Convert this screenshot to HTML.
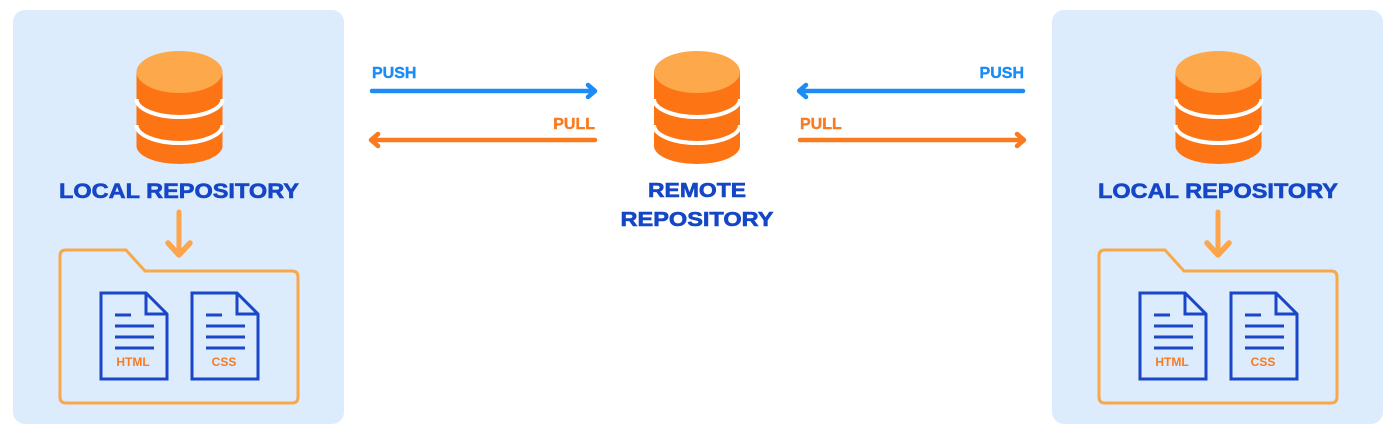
<!DOCTYPE html>
<html><head><meta charset="utf-8"><style>
html,body{margin:0;padding:0;background:#fff;}
svg{display:block}
text{font-family:"Liberation Sans",sans-serif;font-weight:bold;}
</style></head><body>
<svg width="1400" height="442" viewBox="0 0 1400 442" xmlns="http://www.w3.org/2000/svg">
<defs>
<g id="db">
  <path d="M-43,21 L-43,95 A43,18 0 0 0 43,95 L43,21 Z" fill="#fc7413"/>
  <ellipse cx="0" cy="21" rx="43" ry="21" fill="#fda84a"/>
  <path d="M-43,48 A43,18 0 0 0 43,48" fill="none" stroke="#fff" stroke-width="4"/>
  <path d="M-43,74 A43,18 0 0 0 43,74" fill="none" stroke="#fff" stroke-width="4"/>
</g>
<g id="doc">
  <path d="M0,0 L45,0 L66,21 L66,86 L0,86 Z" fill="none" stroke="#1a46c8" stroke-width="3"/>
  <path d="M45,0 L45,21 L66,21" fill="none" stroke="#1a46c8" stroke-width="3"/>
  <path d="M14,22 H30 M14,33 H53 M14,44 H53 M14,55 H53" stroke="#1a46c8" stroke-width="3"/>
</g>
<g id="local">
  <rect x="13" y="10" width="331" height="414" rx="12" fill="#dcecfc"/>
  <use href="#db" x="179.5" y="51"/>
  <text x="179" y="198" font-size="21" fill="#1446c6" text-anchor="middle" textLength="240" lengthAdjust="spacingAndGlyphs" stroke="#1446c6" stroke-width="0.6">LOCAL REPOSITORY</text>
  <path d="M179,212 V250" stroke="#fca54a" stroke-width="5" stroke-linecap="round"/>
  <path d="M168,243 L179,255 L190,243" fill="none" stroke="#fca54a" stroke-width="5.5" stroke-linecap="round" stroke-linejoin="round"/>
  <path d="M66,250 L126,250 L145,271 L292,271 Q298,271 298,277 L298,397 Q298,403 292,403 L66,403 Q60,403 60,397 L60,256 Q60,250 66,250 Z" fill="none" stroke="#f9a849" stroke-width="3"/>
  <use href="#doc" x="101" y="293"/>
  <use href="#doc" x="192" y="293"/>
  <text x="133" y="366" font-size="12" fill="#f97a20" text-anchor="middle">HTML</text>
  <text x="224" y="366" font-size="12" fill="#f97a20" text-anchor="middle">CSS</text>
</g>
</defs>
<use href="#local"/>
<g transform="translate(1039,0)"><use href="#local"/></g>

<use href="#db" x="697" y="51"/>
<text x="697" y="197" font-size="20" fill="#1446c6" text-anchor="middle" textLength="98" lengthAdjust="spacingAndGlyphs" stroke="#1446c6" stroke-width="0.6">REMOTE</text>
<text x="697" y="226" font-size="20" fill="#1446c6" text-anchor="middle" textLength="153" lengthAdjust="spacingAndGlyphs" stroke="#1446c6" stroke-width="0.6">REPOSITORY</text>

<g stroke-width="4.5" stroke-linecap="round" stroke-linejoin="round" fill="none">
  <path d="M372,91 H594 M588,85 L595,91 L588,97" stroke="#1b8cf5"/>
  <path d="M372,140 H595 M378,134 L371,140 L378,146" stroke="#fa7a1f"/>
  <path d="M800,91 H1023 M806,85 L799,91 L806,97" stroke="#1b8cf5"/>
  <path d="M800,140 H1023 M1017,134 L1024,140 L1017,146" stroke="#fa7a1f"/>
</g>
<text x="372" y="78" font-size="16" fill="#1b8cf5" stroke="#1b8cf5" stroke-width="0.4">PUSH</text>
<text x="595" y="129" font-size="16" fill="#fa7a1f" text-anchor="end" stroke="#fa7a1f" stroke-width="0.4">PULL</text>
<text x="1024" y="78" font-size="16" fill="#1b8cf5" text-anchor="end" stroke="#1b8cf5" stroke-width="0.4">PUSH</text>
<text x="800" y="129" font-size="16" fill="#fa7a1f" stroke="#fa7a1f" stroke-width="0.4">PULL</text>
</svg>
</body></html>
